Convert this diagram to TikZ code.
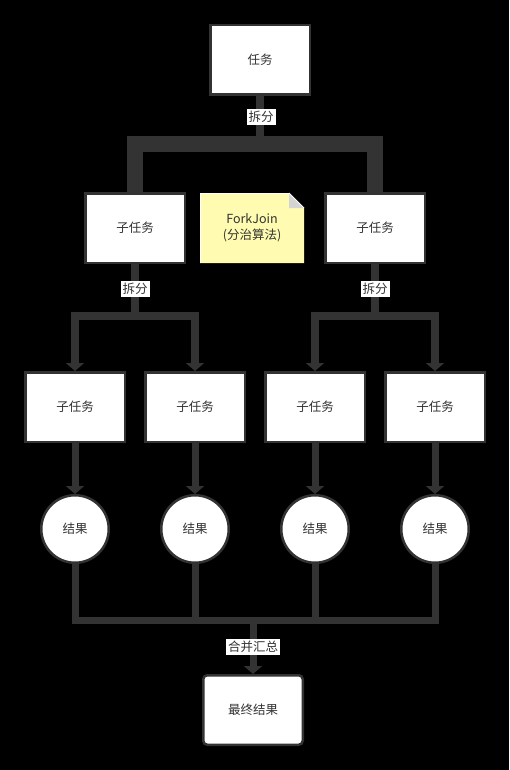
\documentclass[tikz,border=0pt]{standalone}
\usepackage{fontspec}
\newfontfamily\cjk{Noto Sans CJK SC}
\usetikzlibrary{arrows.meta}
\definecolor{ink}{HTML}{333333}
\definecolor{notefill}{HTML}{FFFBB0}
\definecolor{foldgray}{HTML}{D4D4D4}
\tikzset{
  txt/.style={font=\cjk\fontsize{12.5}{16}\selectfont, text=ink},
  taskbox/.style={txt, draw=ink, line width=2.5pt, fill=white, minimum width=99.5pt, minimum height=69.5pt, inner sep=0pt},
  resnode/.style={txt, circle, draw=ink, line width=2.5pt, fill=white, minimum size=67.5pt, inner sep=0pt},
  lbl/.style={txt, fill=white, inner sep=2pt},
  wire/.style={draw=ink, line width=#1},
  tip/.style={-{Triangle[length=8pt,width=18pt]}},
}
\begin{document}
\begin{tikzpicture}[x=1pt,y=-1pt]
\fill[black] (0,0) rectangle (509,770);
\useasboundingbox (0,0) rectangle (509,770);

% task and first split
\node[taskbox] (task) at (260,60) {任务};
\node[taskbox] (s1) at (135,228) {子任务};
\node[taskbox] (s2) at (375,228) {子任务};
\coordinate (j0) at (260,144);
\draw[wire=8pt] (task.south) -- (j0);
\draw[wire=16pt] (s1.north) |- (j0) -| (s2.north);
\node[lbl] (split0) at (261,117) {拆分};

% note
\fill[notefill] (200,193) -- (289,193) -- (304,208) -- (304,263) -- (200,263) -- cycle;
\draw[white, line width=1.2pt] (200.6,263) -- (200.6,193.6) -- (289,193.6);
\fill[foldgray] (289,193) -- (304,208) -- (289,208) -- cycle;
\draw[white, line width=0.8pt] (289,193) -- (304,208);
\node[txt, align=center] (note) at (252,228) {ForkJoin\\(分治算法)};

% second level
\node[taskbox] (a1) at (75,407) {子任务};
\node[taskbox] (a2) at (195,407) {子任务};
\node[taskbox] (a3) at (315,407) {子任务};
\node[taskbox] (a4) at (435,407) {子任务};
\coordinate (j1) at (135,316);
\coordinate (j2) at (375,316);
\draw[wire=8pt] (s1.south) -- (j1);
\draw[wire=8pt] (s2.south) -- (j2);
\draw[wire=8pt, tip] (j1) -| (a1.north);
\draw[wire=8pt, tip] (j1) -| (a2.north);
\draw[wire=8pt, tip] (j2) -| (a3.north);
\draw[wire=8pt, tip] (j2) -| (a4.north);
\node[lbl] (split1) at (135,289) {拆分};
\node[lbl] (split2) at (375,289) {拆分};

% results
\node[resnode] (r1) at (75,529) {结果};
\node[resnode] (r2) at (195,529) {结果};
\node[resnode] (r3) at (315,529) {结果};
\node[resnode] (r4) at (435,529) {结果};
\draw[wire=7pt, tip] (a1.south) -- (r1.north);
\draw[wire=7pt, tip] (a2.south) -- (r2.north);
\draw[wire=7pt, tip] (a3.south) -- (r3.north);
\draw[wire=7pt, tip] (a4.south) -- (r4.north);

% merge
\node[taskbox, rounded corners=4pt] (final) at (253,710) {最终结果};
\coordinate (m) at (253,620);
\draw[wire=7pt] (r1.south) |- (m);
\draw[wire=7pt] (r2.south) |- (m);
\draw[wire=7pt] (r3.south) |- (m);
\draw[wire=7pt] (r4.south) |- (m);
\draw[wire=7pt, tip] (m) -- (final.north);
\node[lbl] (merge) at (253,647) {合并汇总};
\end{tikzpicture}
\end{document}
